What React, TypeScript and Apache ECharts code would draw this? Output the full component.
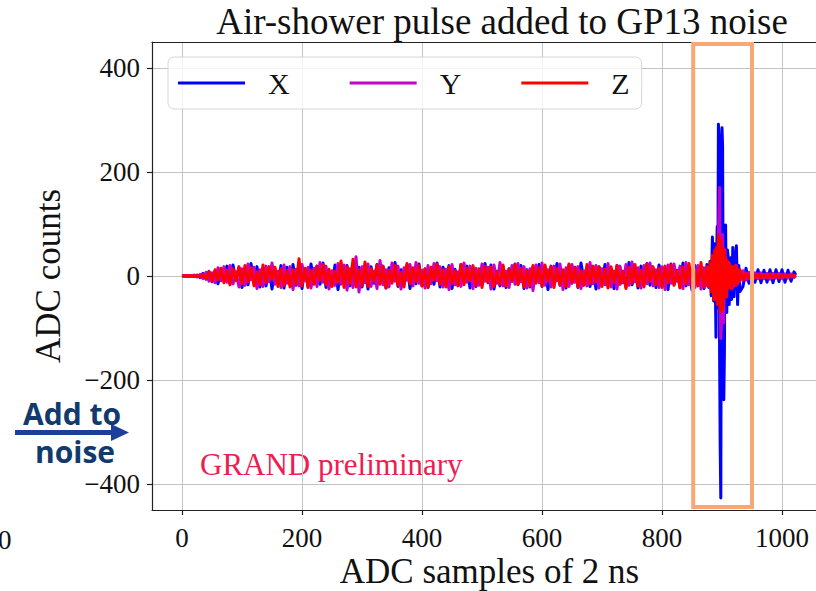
import React, { useEffect, useRef } from "react";
import * as echarts from "echarts";

// ADC sample indices at which the traces are read
const samples = [
  0, 5, 10, 15, 20, 25, 30, 35, 40, 45, 50, 55, 60, 65, 70, 75, 80, 85, 90, 95,
  100, 105, 110, 115, 120, 125, 130, 135, 140, 145, 150, 155, 160, 165, 170, 175, 180, 185, 190, 195,
  200, 205, 210, 215, 220, 225, 230, 235, 240, 245, 250, 255, 260, 265, 270, 275, 280, 285, 290, 295,
  300, 305, 310, 315, 320, 325, 330, 335, 340, 345, 350, 355, 360, 365, 370, 375, 380, 385, 390, 395,
  400, 405, 410, 415, 420, 425, 430, 435, 440, 445, 450, 455, 460, 465, 470, 475, 480, 485, 490, 495,
  500, 505, 510, 515, 520, 525, 530, 535, 540, 545, 550, 555, 560, 565, 570, 575, 580, 585, 590, 595,
  600, 605, 610, 615, 620, 625, 630, 635, 640, 645, 650, 655, 660, 665, 670, 675, 680, 685, 690, 695,
  700, 705, 710, 715, 720, 725, 730, 735, 740, 745, 750, 755, 760, 765, 770, 775, 780, 785, 790, 795,
  800, 805, 810, 815, 820, 825, 830, 835, 840, 845, 850, 855, 860, 865, 870, 875,
  876, 878, 880, 882, 884, 886, 888, 890,
  891, 892, 893, 894, 895, 896, 897, 898, 899, 900, 901, 902, 903, 904, 905, 906, 907, 908, 909, 910,
  912, 914, 916, 918, 920, 922, 924, 926, 928, 930,
  935, 940, 945, 950, 955, 960, 965, 970, 975, 980, 985, 990, 995, 1000, 1005, 1010, 1015, 1020, 1023,
];

const traceX = [
  0, 1, -1, 1, -1, 2, -3, 5, -6, 9, -11, 8, -15, 13, -9, 19, -14, 21, -7, 16,
  -22, 11, -17, 24, -10, 18, -21, 6, -19, 15, -25, 12, -8, 20, -23, 17, -13, 22, -18, 9,
  -24, 14, -20, 23, -11, 19, -16, 25, -22, 7, -18, 21, -26, 15, -12, 20, -19, 24, -9, 17,
  -21, 13, -25, 18, -14, 22, -10, 19, -23, 16, -8, 26, -20, 12, -17, 21, -24, 10, -15, 23,
  -19, 14, -22, 8, -16, 25, -21, 17, -11, 20, -24, 13, -18, 22, -7, 19, -23, 15, -20, 11,
  -17, 24, -13, 21, -25, 9, -19, 18, -22, 14, -10, 23, -16, 20, -24, 12, -21, 17, -8, 22,
  -20, 15, -26, 19, -12, 24, -18, 10, -23, 21, -14, 17, -22, 25, -9, 16, -20, 13, -25, 18,
  -11, 22, -19, 14, -24, 20, -15, 8, -21, 26, -17, 12, -23, 19, -10, 24, -18, 15, -22, 21,
  -13, 17, -26, 23, -16, 11, -21, 25, -19, 14, -27, 20, -12, 18, -24, 22,
  12, -22, 28, -38, 75, -48, 62, -118,
  40, 95, -60, 292, 270, -150, -330, -427, 120, 285, 250, -80, -238, -150, 60, 98, -30, -70, 50, 40,
  -55, 35, -45, 55, -40, 30, 58, -55, 20, -30,
  -20, 15, -14, 13, -12, 12, -13, 11, -12, 12, -13, 12, -11, 12, -12, 11, -10, 8, 2,
];

const traceY = [
  0, -1, 1, -1, 2, -2, 3, -5, 7, -10, 6, -13, 16, -9, 18, -12, 20, -15, 8, -21,
  14, -18, 23, -7, 17, -24, 12, -20, 19, -11, 25, -16, 9, -22, 21, -14, 18, -26, 13, -19,
  22, -8, 17, -23, 15, -20, 26, -12, 19, -25, 10, -18, 24, -16, 21, -27, 14, -22, 37, -31,
  18, -13, 23, -20, 9, -24, 30, -17, 12, -21, 25, -10, 19, -25, 16, -8, 22, -19, 26, -14,
  11, -23, 20, -15, 24, -9, 18, -21, 13, -26, 22, -17, 8, -20, 25, -12, 19, -24, 15, -18,
  23, -10, 17, -25, 21, -14, 26, -19, 9, -22, 20, -16, 24, -11, 18, -23, 14, -28, 21, -13,
  25, -18, 12, -21, 19, -9, 23, -26, 16, -20, 22, -12, 18, -24, 10, -19, 26, -15, 20, -23,
  14, -17, 24, -21, 9, -25, 19, -13, 22, -18, 27, -11, 16, -23, 20, -15, 25, -19, 12, -22,
  18, -26, 21, -14, 23, -10, 19, -24, 26, -17, 13, -22, 20, -25, 16, -19,
  8, -15, 20, -25, 30, -35, 40, -45,
  30, 55, -40, 80, 120, 170, -60, -120, -100, 60, 80, -50, -90, 40, 50, -35, 30, -40, 25, -20,
  25, -20, 18, -22, 15, -18, 20, -15, 12, -10,
  10, -8, 7, -6, 6, -5, 6, -5, 5, -6, 5, -4, 5, -5, 4, -4, 4, -3, 1,
];

const traceZ = [
  0, 1, -1, 1, -1, 1, -2, 3, -5, 8, -10, 12, -7, 15, -13, 11, -17, 14, -9, 18,
  -15, 20, -11, 16, -19, 8, -17, 21, -13, 18, -6, 17, -20, 14, -18, 10, -21, 12, -16, 33,
  -19, 15, -22, 11, -16, 19, -8, 22, -17, 13, -20, 9, -12, 29, -22, 18, -14, 32, -21, 12,
  -18, 27, -20, 14, -9, 21, -16, 19, -23, 11, -14, 20, -18, 7, -21, 24, -15, 16, -11, 20,
  -19, 13, -22, 17, -8, 23, -16, 12, -21, 18, -14, 10, -19, 22, -17, 15, -9, 20, -18, 14,
  -22, 19, -12, 17, -20, 8, -16, 21, -19, 13, -10, 22, -17, 15, -21, 11, -18, 20, -14, 16,
  -19, 21, -9, 18, -22, 14, -17, 12, -20, 23, -13, 16, -21, 10, -18, 22, -15, 19, -11, 17,
  -20, 13, -23, 18, -12, 20, -16, 9, -24, 17, -14, 22, -19, 11, -21, 23, -10, 18, -17, 15,
  -22, 19, -13, 21, -18, 10, -23, 17, -15, 24, -20, 12, -19, 26, -21, 18,
  15, -20, 25, -30, 40, -45, 50, -40,
  55, -55, 45, 79, -50, 60, -69, 70, -60, 55, -65, 40, -45, 50, -35, 35, -40, 30, -25, 28,
  -22, 20, -25, 18, -15, 20, -18, 12, -10, 12,
  -8, 6, -5, 5, -4, 4, -4, 3, -4, 4, -3, 3, -3, 3, -2, 2, -2, 2, 0,
];

const seriesNames = ["X", "Y", "Z"];
const seriesColors = ["#0000FF", "#C800C8", "#FF0000"];
const traces = [traceX, traceY, traceZ];

// Highlighted pulse window (ADC samples / ADC counts)
const boxSamples = [852, 950];
const boxCounts = [-444, 446];

const xRange = [-50, 1075];
const yRange = [-450, 450];

const SERIF = "'Liberation Serif', 'Times New Roman', serif";

const fmt = (v: number) => (v < 0 ? "\u2212" + Math.abs(v) : String(v));

export default function App() {
  const ref = useRef<HTMLDivElement>(null);

  useEffect(() => {
    if (!ref.current) return;
    const chart = echarts.init(ref.current, null, { renderer: "svg" });

    const lineSeries = traces.map((tr, i) => ({
      name: seriesNames[i],
      type: "line",
      data: samples.map((s, j) => [s, tr[j]]),
      showSymbol: false,
      symbol: "none",
      color: seriesColors[i],
      lineStyle: { color: seriesColors[i], width: 3, join: "round" },
      z: 2 + i,
      silent: true,
    }));

    const boxData = [
      [boxSamples[0], boxCounts[1]],
      [boxSamples[1], boxCounts[1]],
      [boxSamples[1], boxCounts[0]],
      [boxSamples[0], boxCounts[0]],
      [boxSamples[0], boxCounts[1]],
    ];

    const option: any = {
      animation: false,
      backgroundColor: "#ffffff",
      grid: {
        left: 152,
        top: 42,
        right: -11,
        bottom: 81,
        containLabel: false,
        outerBoundsMode: "none",
      },
      legend: {
        data: seriesNames,
        left: 168,
        top: 57,
        orient: "horizontal",
        padding: [11, 12, 11, 10],
        itemGap: 60,
        itemWidth: 67,
        itemHeight: 3,
        icon: "rect",
        backgroundColor: "rgba(255,255,255,0.8)",
        borderColor: "#d6d6d6",
        borderWidth: 1,
        borderRadius: 6,
        textStyle: {
          fontFamily: SERIF,
          fontSize: 30,
          color: "#111",
          lineHeight: 30,
          padding: [0, 0, 0, 18],
        },
      },
      xAxis: [
        {
          type: "value",
          min: xRange[0],
          max: xRange[1],
          splitNumber: 5,
          position: "bottom",
          axisLine: { show: true, onZero: false, lineStyle: { color: "#222", width: 1.2 } },
          axisTick: { show: true, inside: false, length: 5, lineStyle: { color: "#222", width: 1.2 } },
          axisLabel: {
            showMinLabel: false,
            showMaxLabel: false,
            margin: 14,
            fontFamily: SERIF,
            fontSize: 27,
            color: "#111",
            formatter: fmt,
          },
          splitLine: { show: true, lineStyle: { color: "#c4c4c4", width: 1 } },
          name: "ADC samples of 2 ns",
          nameLocation: "middle",
          nameGap: 44,
          nameMoveOverlap: false,
          nameTextStyle: { fontFamily: SERIF, fontSize: 35, color: "#111", lineHeight: 34 },
        },
        {
          type: "value",
          min: xRange[0],
          max: xRange[1],
          position: "top",
          axisLine: { show: true, onZero: false, lineStyle: { color: "#222", width: 1.2 } },
          axisTick: { show: false },
          axisLabel: { show: false },
          splitLine: { show: false },
        },
      ],
      yAxis: {
        type: "value",
        min: yRange[0],
        max: yRange[1],
        splitNumber: 5,
        axisLine: { show: true, onZero: false, lineStyle: { color: "#222", width: 1.2 } },
        axisTick: { show: true, inside: false, length: 5, lineStyle: { color: "#222", width: 1.2 } },
        axisLabel: {
          showMinLabel: false,
          showMaxLabel: false,
          margin: 12,
          fontFamily: SERIF,
          fontSize: 27,
          color: "#111",
          formatter: fmt,
        },
        splitLine: { show: true, lineStyle: { color: "#c4c4c4", width: 1 } },
        name: "ADC counts",
        nameLocation: "middle",
        nameRotate: 90,
        nameGap: 86,
        nameTextStyle: { fontFamily: SERIF, fontSize: 35, color: "#111" },
      },
      series: [
        ...lineSeries,
        {
          name: "box",
          type: "line",
          data: boxData,
          showSymbol: false,
          symbol: "none",
          lineStyle: { color: "#F9A873", width: 4, join: "miter", cap: "square" },
          z: 10,
          silent: true,
        },
      ],
      graphic: [
        {
          type: "text",
          x: 502,
          y: 21,
          style: {
            text: "Air-shower pulse added to GP13 noise",
            fontFamily: SERIF,
            fontSize: 37,
            fill: "#111",
            textAlign: "center",
            textVerticalAlign: "middle",
          },
        },
        {
          type: "text",
          x: 200,
          y: 464,
          style: {
            text: "GRAND preliminary",
            fontFamily: SERIF,
            fontSize: 31,
            fill: "#EE1C52",
            textAlign: "left",
            textVerticalAlign: "middle",
          },
        },
        {
          type: "text",
          x: 23,
          y: 413,
          style: {
            text: "Add to",
            fontFamily: "'Open Sans', sans-serif",
            fontWeight: "bold",
            fontSize: 30,
            fill: "#123A6C",
            textAlign: "left",
            textVerticalAlign: "middle",
          },
        },
        {
          type: "text",
          x: 35,
          y: 451,
          style: {
            text: "noise",
            fontFamily: "'Open Sans', sans-serif",
            fontWeight: "bold",
            fontSize: 30,
            fill: "#123A6C",
            textAlign: "left",
            textVerticalAlign: "middle",
          },
        },
        {
          type: "rect",
          shape: { x: 15, y: 430, width: 98, height: 5 },
          style: { fill: "#1C3F9C" },
        },
        {
          type: "polygon",
          shape: { points: [[111, 424], [129, 432.5], [111, 441]] },
          style: { fill: "#1C3F9C" },
        },
        {
          type: "text",
          x: -2,
          y: 540,
          style: {
            text: "0",
            fontFamily: SERIF,
            fontSize: 27,
            fill: "#111",
            textAlign: "left",
            textVerticalAlign: "middle",
          },
        },
      ],
    };

    chart.setOption(option);
    return () => chart.dispose();
  }, []);

  return (
    <div
      ref={ref}
      style={{ position: "absolute", left: 0, top: 0, width: 816, height: 591, background: "#fff" }}
    />
  );
}
